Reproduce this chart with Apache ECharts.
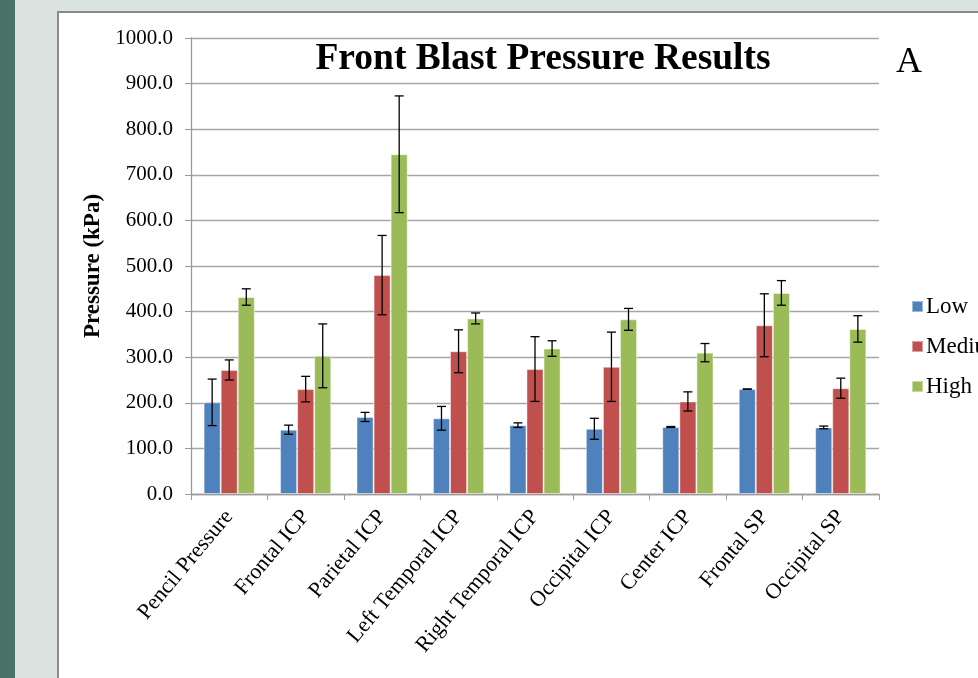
<!DOCTYPE html>
<html>
<head>
<meta charset="utf-8">
<script src="https://cdn.jsdelivr.net/npm/echarts@6/dist/echarts.min.js"></script>
<style>
  html, body { margin: 0; padding: 0; width: 978px; height: 678px; overflow: hidden; background: #dbe3e0; }
  #strip { position: absolute; left: 0; top: 0; width: 15px; height: 678px; background: #4a7268; }
  #panel { position: absolute; left: 57px; top: 11px; width: 960px; height: 700px; background: #fff; border: 2px solid #8a8a8a; }
  #main { position: absolute; left: 0; top: 0; width: 978px; height: 678px; }
</style>
</head>
<body>
<div id="strip"></div>
<div id="panel"></div>
<div id="main"></div>
<script>
/********** data **********/
var categories = ['Pencil Pressure', 'Frontal ICP', 'Parietal ICP', 'Left Temporal ICP', 'Right Temporal ICP',
    'Occipital ICP', 'Center ICP', 'Frontal SP', 'Occipital SP'];
var levelNames = ['Low', 'Medium', 'High'];
var lowValues = [201, 141, 169, 166, 151, 143, 147, 230, 146];
var mediumValues = [272, 230, 480, 313, 274, 279, 203, 370, 232];
var highValues = [432, 303, 745, 385, 319, 383, 310, 441, 362];
var lowErr = [51, 10, 10, 26, 5, 23, 1, 0, 3];
var mediumErr = [22, 28, 87, 47, 71, 76, 21, 69, 22];
var highErr = [18, 70, 128, 12, 17, 24, 20, 27, 29];
var yTicks = [0, 100, 200, 300, 400, 500, 600, 700, 800, 900, 1000];

var colors = ['#4f81bd', '#c0504d', '#9bbb59'];
var serif = '"Liberation Serif", "DejaVu Serif", serif';
var catGap = 0.33;

var myChart = echarts.init(document.getElementById('main'));

// error bar drawn on top of bar number idx (0,1,2) in the group
function errorSeries(name, values, errs, idx) {
    var data = values.map(function(v, i) { return [i, v, errs[i]]; });
    return {
        name: name + ' err',
        type: 'custom',
        z: 10,
        silent: true,
        data: data,
        renderItem: function(params, api) {
            var x = api.value(0);
            var v = api.value(1);
            var e = api.value(2);
            var catW = api.size([1, 0])[0];
            var barW = catW * (1 - catGap) / 3;
            var top = api.coord([x, v + e]);
            var bot = api.coord([x, v - e]);
            var cx = top[0] + (idx - 1) * barW;
            var half = 4.5;
            var st = { stroke: '#000', lineWidth: 1.3 };
            return {
                type: 'group',
                children: [
                    { type: 'line', shape: { x1: cx, y1: top[1], x2: cx, y2: bot[1] }, style: st },
                    { type: 'line', shape: { x1: cx - half, y1: top[1], x2: cx + half, y2: top[1] }, style: st },
                    { type: 'line', shape: { x1: cx - half, y1: bot[1], x2: cx + half, y2: bot[1] }, style: st }
                ]
            };
        }
    };
}

function barSeries(name, values, idx) {
    return {
        name: name,
        type: 'bar',
        data: values,
        barGap: '0%',
        barCategoryGap: (catGap * 100) + '%',
        itemStyle: { color: colors[idx], borderColor: 'rgba(255,255,255,0.45)', borderWidth: 1 }
    };
}

var option = {
    animation: false,
    backgroundColor: 'transparent',
    textStyle: { fontFamily: serif },
    title: [{
        text: 'Front Blast Pressure Results',
        left: 538,
        textAlign: 'center',
        top: 35,
        textStyle: { fontFamily: serif, fontSize: 37.5, fontWeight: 'bold', color: '#000' }
    }, {
        text: 'A',
        left: 891,
        top: 40,
        textStyle: { fontFamily: serif, fontSize: 36, fontWeight: 'normal', color: '#000' }
    }],
    legend: {
        orient: 'vertical',
        left: 906,
        top: 290,
        itemWidth: 11,
        itemHeight: 11,
        itemGap: 17,
        icon: 'rect',
        data: levelNames,
        textStyle: { fontFamily: serif, fontSize: 23, color: '#000', padding: [0, 0, 0, -2] }
    },
    grid: { left: 191, right: 99, top: 38, bottom: 184 },
    xAxis: {
        type: 'category',
        data: categories,
        axisLine: { lineStyle: { color: '#9a9a9a', width: 1.3 } },
        axisTick: { show: true, length: 6, lineStyle: { color: '#9a9a9a' } },
        axisLabel: {
            rotate: 50,
            margin: 19,
            interval: 0,
            fontFamily: serif,
            fontSize: 22,
            color: '#000'
        }
    },
    yAxis: {
        type: 'value',
        min: yTicks[0],
        max: yTicks[yTicks.length - 1],
        interval: 100,
        name: 'Pressure (kPa)',
        nameLocation: 'middle',
        nameGap: 82,
        nameTextStyle: { fontFamily: serif, fontSize: 23, fontWeight: 'bold', color: '#000' },
        axisLine: { show: true, lineStyle: { color: '#9a9a9a', width: 1.3 } },
        axisTick: { show: true, length: 6, lineStyle: { color: '#9a9a9a' } },
        splitLine: { lineStyle: { color: '#a6a6a6', width: 1.3 } },
        axisLabel: {
            margin: 18,
            fontFamily: serif,
            fontSize: 21,
            color: '#000',
            formatter: function(v) { return v.toFixed(1); }
        }
    },
    series: [
        barSeries('Low', lowValues, 0),
        barSeries('Medium', mediumValues, 1),
        barSeries('High', highValues, 2),
        errorSeries('Low', lowValues, lowErr, 0),
        errorSeries('Medium', mediumValues, mediumErr, 1),
        errorSeries('High', highValues, highErr, 2)
    ]
};

myChart.setOption(option);
</script>
</body>
</html>
